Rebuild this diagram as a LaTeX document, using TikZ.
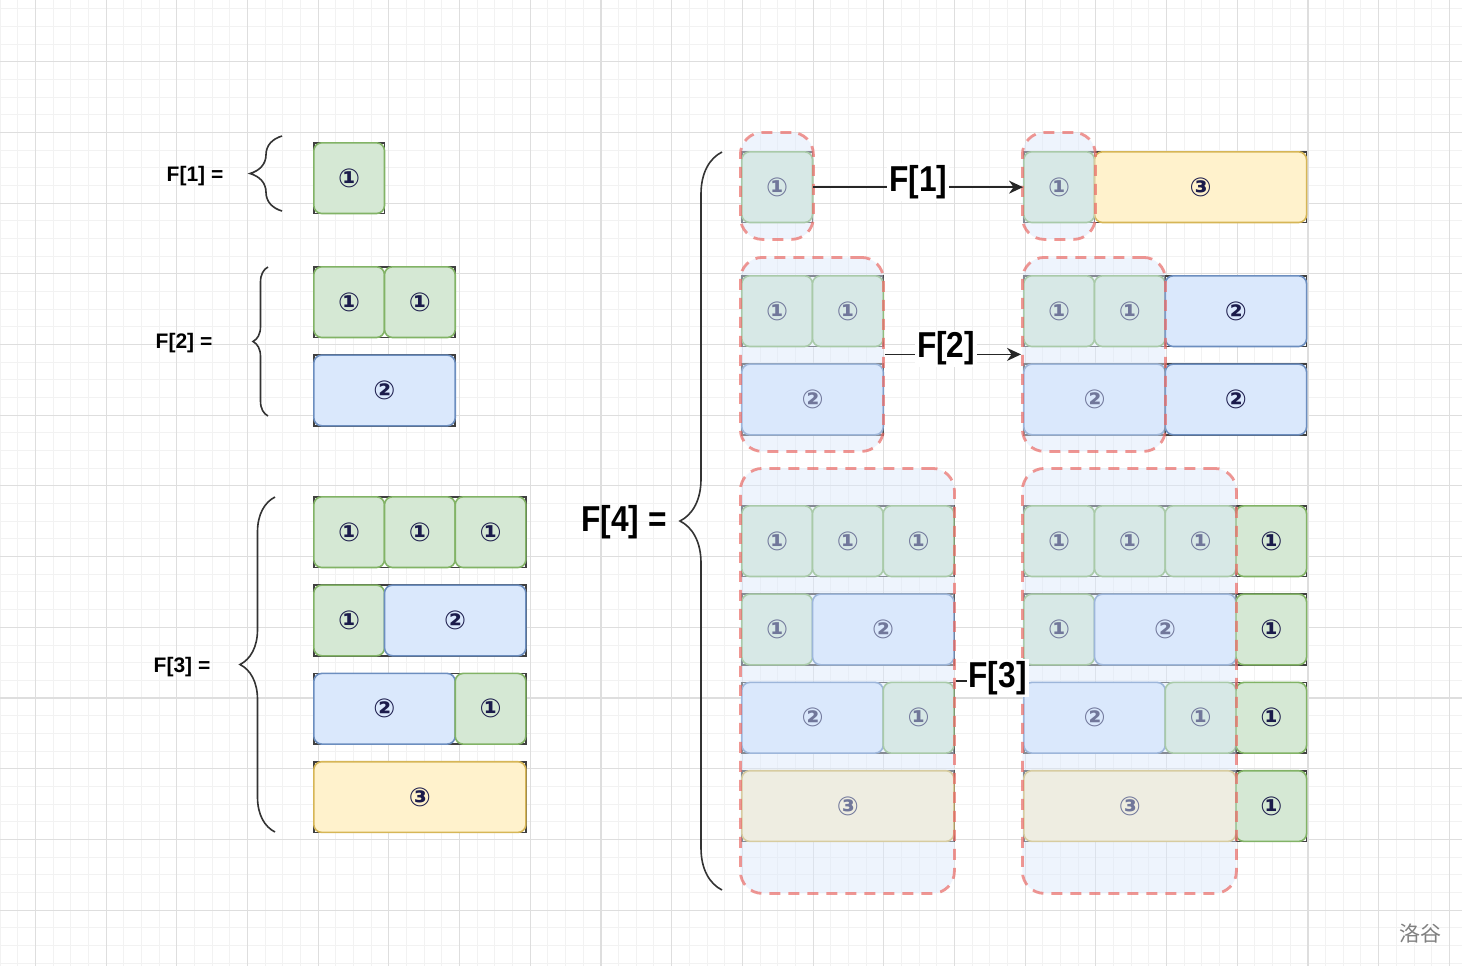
\documentclass[tikz,border=0pt]{standalone}
\usepackage{fontspec}
\setmainfont{Liberation Sans}
\newfontfamily\narrowsans[FakeStretch=0.88]{Liberation Sans}
\newfontfamily\circfont{DejaVu Sans}
\newfontfamily\cjk{Noto Sans CJK SC}
\usepackage{tikz}
\usetikzlibrary{arrows.meta,decorations.pathreplacing}
\definecolor{greenfill}{HTML}{D5E8D4}
\definecolor{greenline}{HTML}{82B366}
\definecolor{bluefill}{HTML}{DAE8FC}
\definecolor{blueline}{HTML}{6C8EBF}
\definecolor{yellowfill}{HTML}{FFF2CC}
\definecolor{yellowline}{HTML}{D6B656}
\definecolor{redline}{HTML}{EA6B66}
\definecolor{digitcol}{HTML}{1B1B4B}
\definecolor{gridminor}{HTML}{F2F2F2}
\definecolor{gridmajor}{HTML}{DEDEDE}
\tikzset{
tilebox/.style={rounded corners=4pt, line width=0.8pt, inner sep=0pt, minimum height=35.35pt, anchor=north west, text=digitcol, font=\circfont\bfseries\fontsize{13}{13}\selectfont},
greentile/.style={tilebox, fill=greenfill, draw=greenline, minimum width=35.35pt},
bluetile/.style={tilebox, fill=bluefill, draw=blueline, minimum width=70.7pt},
yellowtile/.style={tilebox, fill=yellowfill, draw=yellowline, minimum width=106.05pt},
rowframe/.style={draw=black!75, fill=white, line width=0.8pt, inner sep=0pt, minimum height=35.35pt, anchor=north west},
dashgroup/.style={rounded corners=11pt, draw=redline, draw opacity=0.7, fill=bluefill, fill opacity=0.45, dash pattern=on 5.5pt off 4pt, line width=1.4pt, inner sep=0pt, anchor=north west},
bracepath/.style={decorate, draw=black!80, line width=0.8pt},
smalllabel/.style={font=\bfseries\fontsize{10.5}{10.5}\selectfont},
biglabel/.style={font=\narrowsans\bfseries\fontsize{18}{18}\selectfont},
arrowlabel/.style={biglabel, fill=white, inner sep=1pt},
flowline/.style={draw=black!85, line width=0.75pt, -{Stealth[length=7pt,width=6.5pt]}},
}
% one tile: F[1]
\newcommand{\tilesone}[1]{%
  \node[rowframe, minimum width=35.35pt] (#1f1) at (0,0) {};
  \node[greentile] (#1a) at (0,0) {①};
}
% two rows: F[2]
\newcommand{\tilestwo}[1]{%
  \node[rowframe, minimum width=70.7pt] (#1f1) at (0,0) {};
  \node[greentile] (#1a) at (0,0) {①};
  \node[greentile] (#1b) at (70.7,0) {①};
  \node[rowframe, minimum width=70.7pt] (#1f2) at (0,88.3) {};
  \node[bluetile] (#1c) at (0,88.3) {②};
}
% four rows: F[3]
\newcommand{\tilesthree}[1]{%
  \node[rowframe, minimum width=106.05pt] (#1f1) at (0,0) {};
  \node[greentile] (#1a) at (0,0) {①};
  \node[greentile] (#1b) at (70.7,0) {①};
  \node[greentile] (#1c) at (141.4,0) {①};
  \node[rowframe, minimum width=106.05pt] (#1f2) at (0,88.3) {};
  \node[greentile] (#1d) at (0,88.3) {①};
  \node[bluetile] (#1e) at (70.7,88.3) {②};
  \node[rowframe, minimum width=106.05pt] (#1f3) at (0,176.6) {};
  \node[bluetile] (#1g) at (0,176.6) {②};
  \node[greentile] (#1h) at (141.4,176.6) {①};
  \node[rowframe, minimum width=106.05pt] (#1f4) at (0,264.9) {};
  \node[yellowtile] (#1i) at (0,264.9) {③};
}
\begin{document}
\begin{tikzpicture}[x=0.5pt, y=-0.5pt]
        \useasboundingbox (0,0) rectangle (1462,966);
        \fill[white] (0,0) rectangle (1462,966);
        % grid
        \foreach \i in {-2,...,80} \draw[gridminor, line width=0.5pt] ({35.35+17.675*\i},0) -- ({35.35+17.675*\i},966);
        \foreach \j in {0,...,54} \draw[gridminor, line width=0.5pt] (0,{8.7+17.675*\j}) -- (1462,{8.7+17.675*\j});
        \foreach \i in {0,...,20} \draw[gridmajor, line width=0.55pt] ({35.35+70.7*\i},0) -- ({35.35+70.7*\i},966);
        \foreach \j in {0,...,12} \draw[gridmajor, line width=0.55pt] (0,{61.7+70.7*\j}) -- (1462,{61.7+70.7*\j});
        % left column
        \node[smalllabel] (lab1) at (195,176) {F[1] =};
        \node[smalllabel] (lab2) at (184,343) {F[2] =};
        \node[smalllabel] (lab3) at (182,667) {F[3] =};
        \draw[bracepath, decoration={brace, amplitude=16pt}] (282,211) -- (282,136);
        \draw[bracepath, decoration={brace, amplitude=7.5pt}] (268,416) -- (268,267);
        \draw[bracepath, decoration={brace, amplitude=17.5pt}] (275,832) -- (275,497);
        \begin{scope}[shift={(313,142)}] \tilesone{L1} \end{scope}
        \begin{scope}[shift={(313,266)}] \tilestwo{L2} \end{scope}
        \begin{scope}[shift={(313,496)}] \tilesthree{L3} \end{scope}
        % F[4]
        \node[biglabel] (lab4) at (624,522) {F[4] =};
        \draw[bracepath, decoration={brace, amplitude=21pt}] (722,890) -- (722,152);
        \begin{scope}[shift={(741,151)}] \tilesone{A1} \end{scope}
        \begin{scope}[shift={(741,275)}] \tilestwo{A2} \end{scope}
        \begin{scope}[shift={(741,505)}] \tilesthree{A3} \end{scope}
        \begin{scope}[shift={(1023,151)}]
        \tilesone{B1}
        \node[rowframe, minimum width=106.05pt] (B1f2) at (70.7,0) {};
        \node[yellowtile] (B1x) at (70.7,0) {③};
        \end{scope}
        \begin{scope}[shift={(1023,275)}]
        \tilestwo{B2}
        \node[rowframe, minimum width=70.7pt] (B2f3) at (141.4,0) {};
        \node[bluetile] (B2x) at (141.4,0) {②};
        \node[rowframe, minimum width=70.7pt] (B2f4) at (141.4,88.3) {};
        \node[bluetile] (B2y) at (141.4,88.3) {②};
        \end{scope}
        \begin{scope}[shift={(1023,505)}]
        \tilesthree{B3}
        \foreach \r in {0,1,2,3} {
        \node[rowframe, minimum width=35.35pt] (B3k\r) at (212.1,{88.3*\r}) {};
        \node[greentile] (B3x\r) at (212.1,{88.3*\r}) {①};
        }
        \end{scope}
        % dashed groups
        \node[dashgroup, minimum width=36.5pt, minimum height=53.5pt] (gA1) at (739,131) {};
        \node[dashgroup, minimum width=71.5pt, minimum height=97pt] (gA2) at (739,256) {};
        \node[dashgroup, minimum width=107pt, minimum height=212.5pt] (gA3) at (739,467) {};
        \node[dashgroup, minimum width=36.5pt, minimum height=53.5pt] (gB1) at (1021,131) {};
        \node[dashgroup, minimum width=71.5pt, minimum height=97pt] (gB2) at (1021,256) {};
        \node[dashgroup, minimum width=107pt, minimum height=212.5pt] (gB3) at (1021,467) {};
        % arrows
        \draw[flowline] (A1a.east) -- node[arrowlabel, yshift=2.5pt] {F[1]} (B1a.west);
        \draw[flowline] (gA2.east) -- node[arrowlabel, pos=0.45, yshift=3pt] {F[2]} (gB2.west);
        \draw[flowline] (gA3.east) -- node[arrowlabel, pos=0.64, yshift=1.5pt] {F[3]} (gB3.west);
        \node[text=black!50, font=\cjk\fontsize{10.5}{10.5}\selectfont] (mark) at (1420,934) {洛谷};
\end{tikzpicture}
\end{document}
